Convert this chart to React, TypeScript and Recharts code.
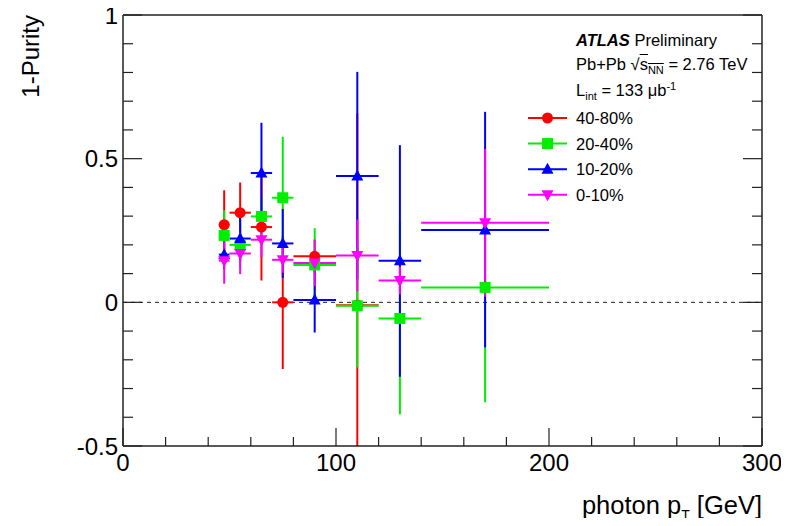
import React from 'react'
import {
  ScatterChart,
  Scatter,
  XAxis,
  YAxis,
  ErrorBar,
  ReferenceLine,
  Legend,
  usePlotArea,
} from 'recharts'

const FONT = '"Liberation Sans", Arial, Helvetica, sans-serif'
const AXIS = '#222'

// photon pT bins [GeV]
const ptCentres = [47.5, 55, 65, 75, 90, 110, 130, 170]
const ptHalfWidths = [2.5, 5, 5, 5, 10, 10, 10, 30]

// 1-Purity per centrality class, errors are [down, up]
const impurity4080 = [0.27, 0.312, 0.262, 0.0, 0.16, -0.01]
const error4080 = [[0.12, 0.12], [0.105, 0.105], [0.186, 0.186], [0.232, 0.232], [0.06, 0.06], [0.668, 0.668]]

const impurity2040 = [0.233, 0.2, 0.299, 0.364, 0.13, -0.012, -0.056, 0.052]
const error2040 = [[0.087, 0.087], [0.08, 0.08], [0.07, 0.07], [0.212, 0.212], [0.128, 0.128], [0.215, 0.215], [0.334, 0.334], [0.4, 0.4]]

const impurity1020 = [0.166, 0.222, 0.45, 0.205, 0.008, 0.44, 0.145, 0.252]
const error1020 = [[0.05, 0.05], [0.08, 0.08], [0.15, 0.175], [0.12, 0.12], [0.113, 0.113], [0.36, 0.362], [0.404, 0.402], [0.409, 0.411]]

const impurity010 = [0.145, 0.17, 0.218, 0.148, 0.137, 0.163, 0.076, 0.277]
const error010 = [[0.08, 0.08], [0.072, 0.072], [0.06, 0.06], [0.045, 0.045], [0.08, 0.08], [0.125, 0.125], [0.048, 0.048], [0.257, 0.257]]

const xTicks = [0, 20, 40, 60, 80, 100, 120, 140, 160, 180, 200, 220, 240, 260, 280, 300]
const yTicks = [-0.5, -0.4, -0.3, -0.2, -0.1, 0, 0.1, 0.2, 0.3, 0.4, 0.5, 0.6, 0.7, 0.8, 0.9, 1]

type Shape = 'circle' | 'square' | 'up' | 'down'

const series: { name: string; color: string; shape: Shape; values: number[]; errors: number[][] }[] = [
  { name: '40-80%', color: '#ff0000', shape: 'circle', values: impurity4080, errors: error4080 },
  { name: '20-40%', color: '#00ee00', shape: 'square', values: impurity2040, errors: error2040 },
  { name: '10-20%', color: '#0000ff', shape: 'up', values: impurity1020, errors: error1020 },
  { name: '0-10%', color: '#ff00ff', shape: 'down', values: impurity010, errors: error010 },
]

function toRows(values: number[], errors: number[][]) {
  return values.map((v, i) => ({
    pt: ptCentres[i],
    ptErr: ptHalfWidths[i],
    val: v,
    err: errors[i],
  }))
}

function Marker({ cx, cy, shape, color }: { cx: number; cy: number; shape: Shape; color: string }) {
  if (cx == null || cy == null) return null
  if (shape === 'circle') return <circle cx={cx} cy={cy} r={5.5} fill={color} />
  if (shape === 'square') return <rect x={cx - 5.5} y={cy - 5.5} width={11} height={11} fill={color} />
  if (shape === 'up')
    return <polygon points={`${cx},${cy - 6.5} ${cx - 6},${cy + 4.5} ${cx + 6},${cy + 4.5}`} fill={color} />
  return <polygon points={`${cx},${cy + 6.5} ${cx - 6},${cy - 4.5} ${cx + 6},${cy - 4.5}`} fill={color} />
}

// clip region for error bars that run past the frame
function PlotClip() {
  const area = usePlotArea()
  if (!area) return null
  return (
    <defs>
      <clipPath id="frame-clip">
        <rect x={area.x} y={area.y} width={area.width} height={area.height} />
      </clipPath>
    </defs>
  )
}

const isMajorX = (v: number) => v % 100 === 0
const isMajorY = (v: number) => Math.abs(v * 2 - Math.round(v * 2)) < 1e-6

// ROOT style ticks: drawn inwards, major ones longer
const bottomTick = ({ x, y, payload }: any) => {
  const major = isMajorX(payload.value)
  return (
    <g>
      <line x1={x} x2={x} y1={y} y2={y - (major ? 18 : 9)} stroke={AXIS} strokeWidth={1.2} />
      {major && (
        <text x={x} y={y + 25} textAnchor="middle" fontSize={24} fontFamily={FONT} fill="#000">
          {payload.value}
        </text>
      )}
    </g>
  )
}

const topTick = ({ x, y, payload }: any) => (
  <line x1={x} x2={x} y1={y} y2={y + (isMajorX(payload.value) ? 18 : 9)} stroke={AXIS} strokeWidth={1.2} />
)

const leftTick = ({ x, y, payload }: any) => {
  const major = isMajorY(payload.value)
  return (
    <g>
      <line x1={x} x2={x + (major ? 19 : 10)} y1={y} y2={y} stroke={AXIS} strokeWidth={1.2} />
      {major && (
        <text x={x - 5} y={y + 8.5} textAnchor="end" fontSize={24} fontFamily={FONT} fill="#000">
          {String(Math.round(payload.value * 10) / 10)}
        </text>
      )}
    </g>
  )
}

const rightTick = ({ x, y, payload }: any) => (
  <line x1={x} x2={x - (isMajorY(payload.value) ? 19 : 10)} y1={y} y2={y} stroke={AXIS} strokeWidth={1.2} />
)

const subStyle = { fontSize: 11, lineHeight: 0 }

function LegendBox({ payload }: any) {
  // keep the series order rather than the legend's alphabetical one
  const items = series
    .map((s) => (payload ?? []).find((p: any) => p.value === s.name) && s)
    .filter(Boolean) as typeof series
  const rowTop = (i: number) => 90 + i * 25.6
  return (
    <div
      style={{
        position: 'relative',
        width: 260,
        height: 185,
        fontFamily: FONT,
        fontSize: 16.5,
        color: '#000',
        whiteSpace: 'nowrap',
      }}
    >
      <div style={{ position: 'absolute', left: 56, top: 2, lineHeight: '20px' }}>
        <b>
          <i>ATLAS</i>
        </b>{' '}
        Preliminary
      </div>
      <div style={{ position: 'absolute', left: 56, top: 26, lineHeight: '20px' }}>
        Pb+Pb √
        <span style={{ textDecoration: 'overline' }}>
          s<sub style={subStyle}>NN</sub>
        </span>{' '}
        = 2.76 TeV
      </div>
      <div style={{ position: 'absolute', left: 56, top: 52, lineHeight: '20px' }}>
        L<sub style={subStyle}>int</sub> = 133 μb<sup style={subStyle}>-1</sup>
      </div>
      <svg width={60} height={185} style={{ position: 'absolute', left: 0, top: 0 }}>
        {items.map((s, i) => (
          <g key={s.name}>
            <line x1={8} x2={47} y1={rowTop(i)} y2={rowTop(i)} stroke={s.color} strokeWidth={2} />
            <Marker cx={27.5} cy={rowTop(i)} shape={s.shape} color={s.color} />
          </g>
        ))}
      </svg>
      {items.map((s, i) => (
        <div
          key={s.name}
          style={{ position: 'absolute', left: 56, top: rowTop(i) - 10, lineHeight: '20px' }}
        >
          {s.name}
        </div>
      ))}
    </div>
  )
}

export default function App() {
  return (
    <div style={{ width: 789, height: 526, margin: -8, background: '#fff' }}>
      <ScatterChart
        width={789}
        height={526}
        margin={{ top: 14, right: 26, bottom: 79, left: 122 }}
      >
        <PlotClip />
        <XAxis
          xAxisId="b"
          type="number"
          dataKey="pt"
          domain={[0, 300]}
          allowDataOverflow
          ticks={xTicks}
          interval={0}
          height={1}
          tickSize={0}
          tickMargin={0}
          tickLine={false}
          axisLine={{ stroke: AXIS, strokeWidth: 1.5 }}
          tick={bottomTick}
          label={{
            content: ({ viewBox }: any) => (
              <text
                x={viewBox.x + viewBox.width}
                y={viewBox.y + 68}
                textAnchor="end"
                fontSize={25.5}
                fontFamily={FONT}
                fill="#000"
              >
                photon p
                <tspan fontSize={14} dy={6}>
                  T
                </tspan>
                <tspan dy={-6}> [GeV]</tspan>
              </text>
            ),
          }}
        />
        <XAxis
          xAxisId="t"
          orientation="top"
          type="number"
          domain={[0, 300]}
          allowDataOverflow
          ticks={xTicks}
          interval={0}
          height={1}
          tickSize={0}
          tickMargin={0}
          tickLine={false}
          axisLine={{ stroke: AXIS, strokeWidth: 1.5 }}
          tick={topTick}
        />
        <YAxis
          yAxisId="l"
          type="number"
          dataKey="val"
          domain={[-0.5, 1]}
          allowDataOverflow
          ticks={yTicks}
          interval={0}
          width={1}
          tickSize={0}
          tickMargin={0}
          tickLine={false}
          axisLine={{ stroke: AXIS, strokeWidth: 1.5 }}
          tick={leftTick}
          label={{
            content: ({ viewBox }: any) => (
              <text
                transform={`translate(${viewBox.x - 83.5},${viewBox.y}) rotate(-90)`}
                textAnchor="end"
                fontSize={24}
                fontFamily={FONT}
                fill="#000"
              >
                1-Purity
              </text>
            ),
          }}
        />
        <YAxis
          yAxisId="r"
          orientation="right"
          type="number"
          domain={[-0.5, 1]}
          allowDataOverflow
          ticks={yTicks}
          interval={0}
          width={1}
          tickSize={0}
          tickMargin={0}
          tickLine={false}
          axisLine={{ stroke: AXIS, strokeWidth: 1.5 }}
          tick={rightTick}
        />
        <ReferenceLine
          xAxisId="b"
          yAxisId="l"
          y={0}
          stroke="#222"
          strokeWidth={1}
          strokeDasharray="4 4"
        />
        {series.map((s) => (
          <Scatter
            key={s.name}
            name={s.name}
            xAxisId="b"
            yAxisId="l"
            data={toRows(s.values, s.errors)}
            fill={s.color}
            isAnimationActive={false}
            shape={(p: any) => <Marker cx={p.cx} cy={p.cy} shape={s.shape} color={s.color} />}
          >
            <ErrorBar direction="x" dataKey="ptErr" width={0} stroke={s.color} strokeWidth={2} />
            <ErrorBar
              direction="y"
              dataKey="err"
              width={0}
              stroke={s.color}
              strokeWidth={2}
              clipPath="url(#frame-clip)"
            />
          </Scatter>
        ))}
        <Legend
          layout="vertical"
          align="center"
          verticalAlign="middle"
          wrapperStyle={{ position: 'absolute', left: 520, top: 28, width: 260, height: 185 }}
          content={(props: any) => <LegendBox payload={props.payload} />}
        />
      </ScatterChart>
    </div>
  )
}
